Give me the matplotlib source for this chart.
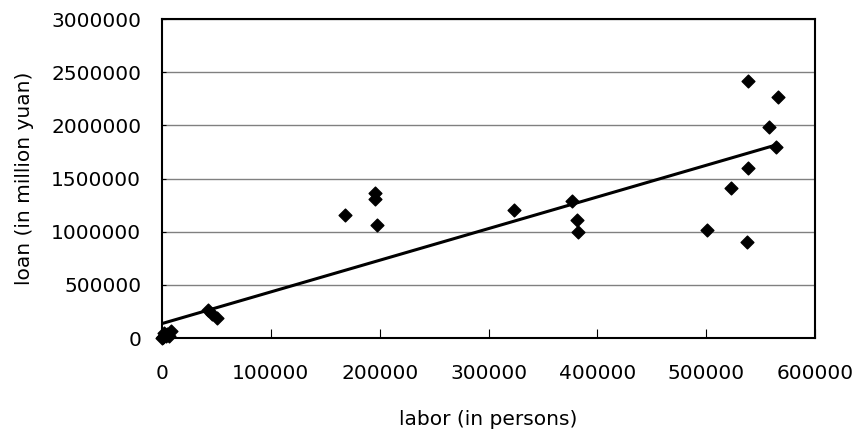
import numpy as np
import matplotlib.pyplot as plt

# labor (persons) and loan (million yuan)
labor = [0, 500, 1000, 2000, 3000, 4000, 5000, 6000, 8000, 42300, 46000,
         50500, 168000, 196000, 196000, 197500, 323500, 377000, 381000,
         382500, 500500, 523000, 537500, 538500, 538500, 557500, 564500,
         566000]
loan = [0, 5000, 10000, 45000, 30000, 20000, 40000, 15000, 70000, 263000,
        226000, 188000, 1157000, 1364000, 1307000, 1063000, 1204000,
        1290000, 1110000, 997000, 1016000, 1411000, 903000, 2417000,
        1599000, 1984000, 1796000, 2266000]

x_ticks = [0, 100000, 200000, 300000, 400000, 500000, 600000]
y_ticks = [0, 500000, 1000000, 1500000, 2000000, 2500000, 3000000]

plt.rcParams['font.family'] = ['DejaVu Sans']

fig = plt.figure(figsize=(8.59, 4.29), dpi=100)
ax = fig.add_axes([0.1886, 0.2121, 0.7602, 0.7436])

ax.scatter(labor, loan, marker='D', s=6.5 ** 2, color='black', zorder=3,
           clip_on=False)

# linear trendline over the data range
k, b = np.polyfit(labor, loan, 1)
xs = np.array([min(labor), max(labor)])
ax.plot(xs, k * xs + b, color='black', linewidth=2.2, zorder=2)

ax.set_xlim(0, 600000)
ax.set_ylim(0, 3000000)
ax.set_xticks(x_ticks)
ax.set_yticks(y_ticks)
ax.set_xticklabels([str(t) for t in x_ticks])
ax.set_yticklabels([str(t) for t in y_ticks])
ax.yaxis.grid(True, color='#808080', linewidth=1.0)
ax.set_axisbelow(True)

ax.tick_params(axis='x', direction='in', length=6.5, width=0.8, pad=19,
               labelsize=14.5)
ax.tick_params(axis='y', direction='in', length=3, width=0.8, pad=15,
               labelsize=14.5)
for sp in ax.spines.values():
    sp.set_linewidth(1.5)
    sp.set_color('black')

ax.set_xlabel('labor (in persons)', fontsize=14.5)
ax.set_ylabel('loan (in million yuan)', fontsize=14.5, va='center')
ax.xaxis.set_label_coords(0.5, -0.226)
ax.yaxis.set_label_coords(-0.211, 0.5)

fig.savefig('out.png', dpi=100)
